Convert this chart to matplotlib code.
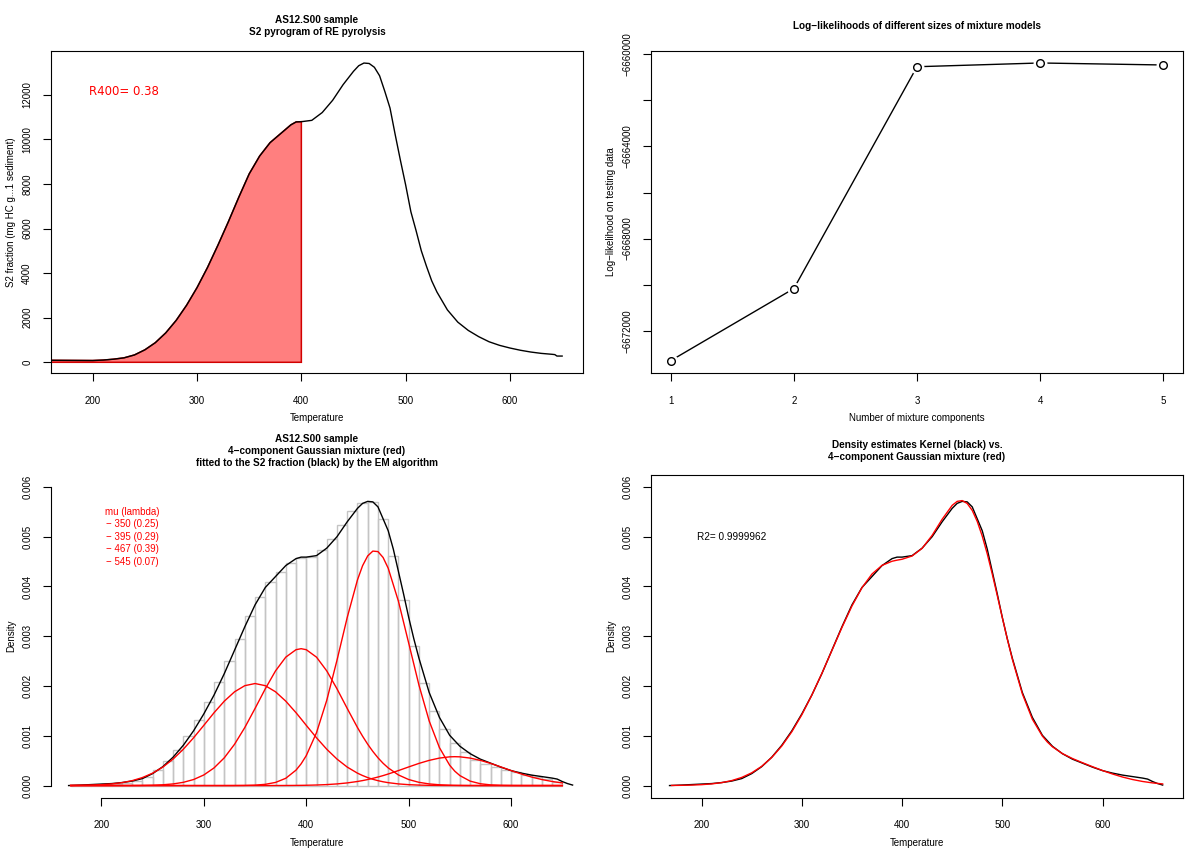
import matplotlib
matplotlib.use("Agg")
import matplotlib.pyplot as plt

plt.rcParams['font.family'] = ['Liberation Sans', 'DejaVu Sans']
plt.rcParams['font.size'] = 7
plt.rcParams['axes.linewidth'] = 0.8

# ---- top left: S2 pyrogram ----
s2_temp = [160, 180, 200, 210, 220, 230, 240, 250, 260, 270, 280, 290, 300, 310, 320,
           330, 340, 350, 360, 370, 380, 390, 395, 400, 410, 420, 430, 440, 450, 455,
           460, 465, 470, 475, 480, 485, 490, 495, 500, 505, 510, 515, 520, 525, 530,
           540, 550, 560, 570, 580, 590, 600, 610, 620, 630, 640, 643, 645, 650]
s2_value = [90, 85, 80, 100, 140, 200, 330, 560, 880, 1320, 1880, 2560, 3350, 4250, 5250,
            6300, 7400, 8450, 9250, 9850, 10250, 10650, 10780, 10790, 10850, 11200, 11750, 12450, 13050, 13300,
            13420, 13400, 13230, 12850, 12150, 11400, 10200, 9050, 7950, 6750, 5900, 5000, 4300, 3650, 3150,
            2350, 1800, 1430, 1150, 920, 760, 640, 540, 460, 400, 360, 345, 280, 280]
r400_cut = 400
r400_label = "R400= 0.38"

# ---- top right: log-likelihoods ----
n_components = [1, 2, 3, 4, 5]
loglik = [-6673300, -6670170, -6660540, -6660377, -6660464]

# ---- bottom left: histogram + mixture components (density x 1e-3) ----
hist_left = list(range(170, 650, 10))
hist_height = [0.01, 0.02, 0.02, 0.03, 0.04, 0.06, 0.10, 0.17, 0.31, 0.50, 0.71, 0.99,
               1.32, 1.67, 2.08, 2.50, 2.95, 3.40, 3.79, 4.09, 4.29, 4.47, 4.58, 4.59,
               4.74, 4.95, 5.24, 5.52, 5.68, 5.69, 5.36, 4.62, 3.72, 2.81, 2.07, 1.50,
               1.13, 0.86, 0.68, 0.52, 0.44, 0.38, 0.32, 0.27, 0.22, 0.17, 0.14, 0.07]

kde_temp = [168, 180, 190, 200, 210, 220, 230, 240, 250, 260, 270, 280, 290, 300, 310,
            320, 330, 340, 350, 360, 370, 380, 390, 395, 400, 410, 420, 430, 440, 450,
            455, 460, 465, 470, 480, 485, 490, 495, 500, 505, 510, 520, 530, 540, 550,
            560, 570, 580, 590, 600, 610, 620, 630, 640, 645, 650, 655, 660]
kde_density = [0.0, 0.01, 0.02, 0.03, 0.04, 0.06, 0.09, 0.14, 0.24, 0.38, 0.57, 0.81, 1.10, 1.44, 1.82,
               2.25, 2.72, 3.19, 3.63, 3.98, 4.20, 4.42, 4.56, 4.59, 4.59, 4.62, 4.77, 5.00, 5.30, 5.57,
               5.67, 5.71, 5.70, 5.60, 5.12, 4.75, 4.30, 3.85, 3.38, 2.95, 2.56, 1.87, 1.37, 1.01, 0.79,
               0.64, 0.53, 0.45, 0.37, 0.30, 0.25, 0.21, 0.18, 0.15, 0.13, 0.08, 0.04, 0.01]

comp_temp = [170, 180, 190, 200, 210, 220, 230, 240, 250, 260, 270, 280, 290, 300, 310,
             320, 330, 340, 350, 360, 370, 380, 390, 395, 400, 410, 420, 430, 440, 450,
             455, 460, 465, 470, 475, 480, 490, 500, 510, 520, 530, 540, 545, 550, 560,
             570, 580, 590, 600, 610, 620, 630, 640, 650]
comp_350 = [0.0022, 0.0046, 0.0093, 0.0179, 0.0329, 0.0581, 0.0984, 0.160, 0.249, 0.371, 0.532, 0.730, 0.960, 1.210, 1.464,
            1.696, 1.884, 2.007, 2.050, 2.007, 1.884, 1.696, 1.464, 1.338, 1.210, 0.960, 0.730, 0.532, 0.371, 0.249,
            0.201, 0.160, 0.126, 0.0984, 0.0760, 0.0581, 0.0329, 0.0179, 0.0093, 0.0046, 0.0022, 0.0010, 0.0006, 0.0004, 0.0002,
            0.0001, 0, 0, 0, 0, 0, 0, 0, 0]
comp_395 = [0, 0, 0, 0.0001, 0.0002, 0.0005, 0.0012, 0.0030, 0.0071, 0.0157, 0.0328, 0.0648, 0.121, 0.213, 0.355,
            0.558, 0.830, 1.166, 1.549, 1.944, 2.304, 2.580, 2.730, 2.750, 2.730, 2.580, 2.304, 1.944, 1.549, 1.166,
            0.991, 0.830, 0.686, 0.558, 0.448, 0.355, 0.213, 0.121, 0.0648, 0.0328, 0.0157, 0.0071, 0.0047, 0.0030, 0.0012,
            0.0005, 0.0002, 0.0001, 0, 0, 0, 0, 0, 0]
comp_467 = [0, 0, 0, 0, 0, 0, 0, 0, 0, 0, 0, 0, 0, 0, 0.0001,
            0.0002, 0.0009, 0.0029, 0.0088, 0.0246, 0.0628, 0.146, 0.310, 0.437, 0.601, 1.062, 1.712, 2.518, 3.378, 4.133,
            4.418, 4.615, 4.711, 4.701, 4.583, 4.367, 3.702, 2.863, 2.020, 1.299, 0.763, 0.409, 0.289, 0.200, 0.0890,
            0.0362, 0.0134, 0.0045, 0.0014, 0.0004, 0.0001, 0, 0, 0]
comp_545 = [0, 0, 0, 0, 0, 0, 0, 0, 0, 0, 0, 0, 0, 0, 0,
            0, 0, 0.0001, 0.0002, 0.0003, 0.0008, 0.0016, 0.0032, 0.0044, 0.0060, 0.0111, 0.0195, 0.0329, 0.0530, 0.0818,
            0.100, 0.121, 0.145, 0.171, 0.200, 0.232, 0.301, 0.374, 0.445, 0.506, 0.552, 0.577, 0.580, 0.577, 0.552,
            0.506, 0.445, 0.374, 0.301, 0.232, 0.171, 0.121, 0.0818, 0.0530]
mix_legend = "mu (lambda)\n\u2212 350 (0.25)\n\u2212 395 (0.29)\n\u2212 467 (0.39)\n\u2212 545 (0.07)"

# ---- bottom right: mixture density vs kernel ----
mix_temp = [170, 180, 190, 200, 210, 220, 230, 240, 250, 260, 270, 280, 290, 300, 310,
            320, 330, 340, 350, 360, 370, 380, 390, 395, 400, 410, 420, 430, 440, 450,
            455, 460, 465, 470, 475, 480, 485, 490, 495, 500, 505, 510, 520, 530, 540,
            545, 550, 560, 570, 580, 590, 600, 610, 620, 630, 640, 650, 660]
mix_density = [0.0022, 0.0046, 0.0093, 0.0180, 0.0331, 0.0586, 0.0996, 0.163, 0.256, 0.387, 0.565, 0.795, 1.081, 1.423, 1.819,
               2.254, 2.715, 3.176, 3.608, 3.976, 4.251, 4.424, 4.507, 4.529, 4.547, 4.613, 4.766, 5.027, 5.351, 5.630,
               5.710, 5.726, 5.668, 5.529, 5.307, 5.012, 4.655, 4.249, 3.817, 3.376, 2.944, 2.539, 1.843, 1.333, 0.994,
               0.874, 0.780, 0.642, 0.543, 0.459, 0.379, 0.302, 0.232, 0.171, 0.121, 0.082, 0.053, 0.033]
r2_label = "R2= 0.9999962"

SC = 1e-3  # density lists are in units of 1e-3

W, H = 1200, 849
fig = plt.figure(figsize=(12, 8.49), dpi=100)


def box(l, t, r, b):
    return [l / W, 1 - b / H, (r - l) / W, (b - t) / H]


def r_style(ax, hpx, wpx):
    ax.tick_params(direction='out', length=6, width=0.8, colors='black', labelsize=7)
    ax.tick_params(axis='x', pad=10.5)
    ax.tick_params(axis='y', pad=7.5, labelrotation=90)
    for t in ax.get_yticklabels():
        t.set_va('center')
    ax.xaxis.set_label_coords(0.5, -45 / hpx)
    ax.yaxis.set_label_coords(-40 / wpx, 0.5)
    ax.xaxis.label.set_va('center')
    ax.yaxis.label.set_va('center')


def title(lines, xc, yc):
    n = len(lines)
    for i, s in enumerate(lines):
        y = yc + (i - (n - 1) / 2) * 12
        fig.text(xc / W, 1 - y / H, s, ha='center', va='center', fontsize=7.2, fontweight='bold')


# top left
ax1 = fig.add_axes(box(51, 51, 583, 373))
ax1.plot(s2_temp, s2_value, color='black', lw=1)
fx = [t for t in s2_temp if t <= r400_cut]
fy = [v for t, v in zip(s2_temp, s2_value) if t <= r400_cut]
ax1.fill(fx + [r400_cut, fx[0]], fy + [0, 0], fc=(1, 0, 0, 0.5), ec=(0.82, 0, 0), lw=1.1)
ax1.set_xlim(160, 670)
ax1.set_ylim(-480, 13960)
ax1.set_xticks([200, 300, 400, 500, 600])
ax1.set_yticks([0, 2000, 4000, 6000, 8000, 10000, 12000])
ax1.set_xlabel('Temperature')
ax1.set_ylabel('S2 fraction (mg HC g...1 sediment)')
ax1.text(230, 12160, r400_label, color='red', ha='center', va='center', fontsize=8.5, family='DejaVu Sans')
r_style(ax1, 322, 532)
title(["AS12.S00 sample", "S2 pyrogram of RE pyrolysis"], 317, 26)

# top right
ax2 = fig.add_axes(box(651, 51, 1183, 373))
ax2.plot(n_components, loglik, color='black', lw=1)
ax2.plot(n_components, loglik, 'o', ms=10, mfc='white', mec='white', mew=0)
ax2.plot(n_components, loglik, 'o', ms=5.5, mfc='white', mec='black', mew=1)
ax2.set_xlim(0.84, 5.16)
ax2.set_ylim(-6673835, -6659857)
ax2.set_xticks(n_components)
yt = [-6672000, -6670000, -6668000, -6666000, -6664000, -6662000, -6660000]
ax2.set_yticks(yt)
ax2.set_yticklabels(['\u2212%d' % abs(v) if (v // 2000) % 2 == 0 else '' for v in yt])
ax2.set_xlabel('Number of mixture components')
ax2.set_ylabel('Log\u2212likelihood on testing data')
r_style(ax2, 322, 532)
title(["Log\u2212likelihoods of different sizes of mixture models"], 917, 26)

# bottom left
ax3 = fig.add_axes(box(51, 475, 582, 797.5))
ax3.bar(hist_left, [h * SC for h in hist_height], width=10, align='edge', fill=False,
        edgecolor='#c4c4c4', lw=1)
ax3.plot(kde_temp, [v * SC for v in kde_density], color='black', lw=1)
for comp in (comp_350, comp_395, comp_467, comp_545):
    ax3.plot(comp_temp, [v * SC for v in comp], color='red', lw=1)
ax3.set_xlim(150.8, 669.2)
ax3.set_ylim(-0.00024, 0.00624)
ax3.set_xticks([200, 300, 400, 500, 600])
ax3.set_yticks([0, 0.001, 0.002, 0.003, 0.004, 0.005, 0.006])
ax3.set_yticklabels(['%.3f' % v for v in ax3.get_yticks()])
ax3.spines['top'].set_visible(False)
ax3.spines['right'].set_visible(False)
ax3.spines['left'].set_bounds(0, 0.006)
ax3.spines['bottom'].set_bounds(200, 600)
ax3.set_xlabel('Temperature')
ax3.set_ylabel('Density')
ax3.text(230, 0.005, mix_legend, color='red', ha='center', va='center', ma='center',
         fontsize=7, linespacing=1.3)
r_style(ax3, 322.5, 531)
title(["AS12.S00 sample", "4\u2212component Gaussian mixture (red)",
       "fitted to the S2 fraction (black) by the EM algorithm"], 317, 451)

# bottom right
ax4 = fig.add_axes(box(651, 475, 1183, 797.5))
ax4.plot(kde_temp, [v * SC for v in kde_density], color='black', lw=1)
ax4.plot(mix_temp, [v * SC for v in mix_density], color='red', lw=1)
ax4.set_xlim(149.5, 680.3)
ax4.set_ylim(-0.00024, 0.00624)
ax4.set_xticks([200, 300, 400, 500, 600])
ax4.set_yticks([0, 0.001, 0.002, 0.003, 0.004, 0.005, 0.006])
ax4.set_yticklabels(['%.3f' % v for v in ax4.get_yticks()])
ax4.set_xlabel('Temperature')
ax4.set_ylabel('Density')
ax4.text(230, 0.005, r2_label, color='black', ha='center', va='center', fontsize=7.2)
r_style(ax4, 322.5, 532)
title(["Density estimates Kernel (black) vs.", "4\u2212component Gaussian mixture (red)"], 917, 451)

fig.savefig('out.png', dpi=100)
